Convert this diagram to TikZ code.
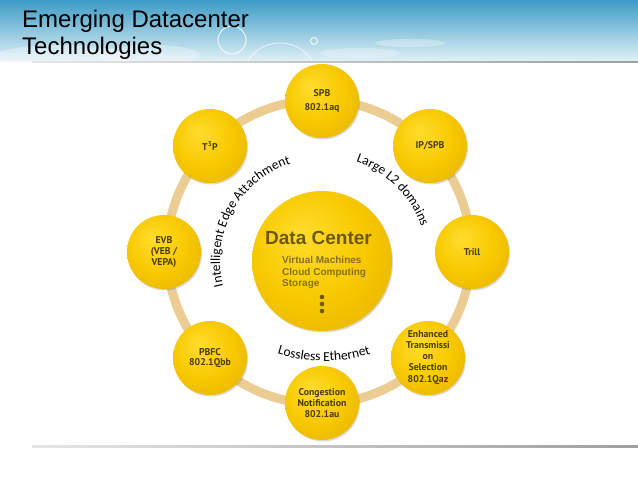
\documentclass[tikz,border=0pt]{standalone}
\usepackage{fontspec}
\setmainfont{Liberation Sans}
\newfontfamily\ptsans{PT Sans}
\newfontfamily\carl{Carlito}
\usetikzlibrary{decorations.text,shadows}
\definecolor{ringc}{HTML}{EBCD93}
\definecolor{sattext}{HTML}{4A3C08}
\definecolor{dctext}{HTML}{6B5A0E}
\definecolor{subtext}{HTML}{86701E}
\definecolor{yl}{HTML}{FFDC2E}
\definecolor{ym}{HTML}{F7C900}
\definecolor{yd}{HTML}{E2AB00}
\definecolor{skytop}{HTML}{3C9BC5}
\definecolor{skybot}{HTML}{E4F2F7}
\pgfdeclareradialshading{yball}{\pgfpoint{-8bp}{10bp}}{color(0bp)=(yl); color(20bp)=(ym); color(42bp)=(yd); color(50bp)=(yd)}
\newcommand\cfont{\carl\fontsize{13.5}{13.5}\selectfont}
\tikzset{
  sat/.style={circle, minimum size=74pt, inner sep=0pt, shading=yball,
    drop shadow={shadow xshift=1pt, shadow yshift=-1.5pt, opacity=0.3},
    font=\ptsans\bfseries\fontsize{9.8}{10.8}\selectfont, text=sattext, align=center},
  title/.style={anchor=base west, font=\fontsize{24}{24}\selectfont, text=black, inner sep=0pt},
  sub/.style={anchor=base west, font=\bfseries\fontsize{10}{10}\selectfont, text=subtext, inner sep=0pt},
  dot/.style={circle, fill=dctext, minimum size=4.6pt, inner sep=0pt},
  curved/.style={decorate, decoration={text along path, text align=center}},
}
\begin{document}
\begin{tikzpicture}[x=1pt,y=1pt]
\useasboundingbox (0,0) rectangle (638,479);
% banner
\shade[top color=skytop, bottom color=skybot] (0,417) rectangle (638,479);
\begin{scope}
\clip (0,417) rectangle (638,479);
\fill[white, opacity=0.35] (60,420) ellipse (70 and 14);
\fill[white, opacity=0.3] (150,424) ellipse (50 and 10);
\fill[white, opacity=0.3] (410,436) ellipse (35 and 4);
\fill[white, opacity=0.25] (360,426) ellipse (40 and 5);
\draw[white, line width=1pt, opacity=0.8] (232,439) circle (14);
\draw[white, line width=1pt, opacity=0.8] (314,438) circle (3.5);
\draw[white, line width=0.8pt, opacity=0.7] (280,398) circle (38);
\end{scope}
\shade[left color=gray!20, right color=gray!75] (32,416) rectangle (638,417.6);
\shade[left color=gray!20, right color=gray!75] (32,31.4) rectangle (638,33);
% ring
\draw[ringc, line width=9pt] (319,227) circle (152);
% satellites
\node[sat] (spb) at (322,378) {SPB\\[4pt]802.1aq};
\node[sat] (ipspb) at (430,333) {IP/SPB};
\node[sat] (trill) at (472,227) {Trill};
\node[sat] (enh) at (428,121) {Enhanced\\Transmissi\\on\\Selection\\[2pt]802.1Qaz};
\node[sat] (cong) at (322,76) {Congestion\\Notification\\802.1au};
\node[sat] (pbfc) at (210,121) {PBFC\\802.1Qbb};
\node[sat] (evb) at (164,227) {EVB\\(VEB /\\VEPA)};
\node[sat] (t3p) at (210,333) {T\textsuperscript{3}P};
% center
\node[circle, minimum size=140pt, inner sep=0pt, shading=yball,
  drop shadow={shadow xshift=1pt, shadow yshift=-1.5pt, opacity=0.3}] (dc) at (322,218) {};
\node[anchor=base west, inner sep=0pt, font=\bfseries\fontsize{19}{19}\selectfont, text=dctext] (dct) at (265,234) {Data Center};
\node[sub] (s1) at (282,215) {Virtual Machines};
\node[sub] (s2) at (282,203.5) {Cloud Computing};
\node[sub] (s3) at (282,192) {Storage};
\node[dot] (d1) at (322,182) {};
\node[dot] (d2) at (322,175) {};
\node[dot] (d3) at (322,168) {};
% title
\node[title] (t1) at (22,451) {Emerging Datacenter};
\node[title] (t2) at (22,424) {Technologies};
% curved labels
\coordinate (lc) at (324,270);
\path[curved, decoration={text={|\cfont|Intelligent Edge Attachment}}]
  (dc.center) ++(202:102) arc[start angle=202, end angle=100, radius=102];
\path[curved, decoration={text={|\cfont|Large L2 domains}}]
  (dc.center) ++(78:105) arc[start angle=78, end angle=12, radius=105];
\path[curved, decoration={text={|\cfont|Lossless Ethernet}}]
  (lc) ++(246:152) arc[start angle=246, end angle=294, radius=152];
\end{tikzpicture}
\end{document}
